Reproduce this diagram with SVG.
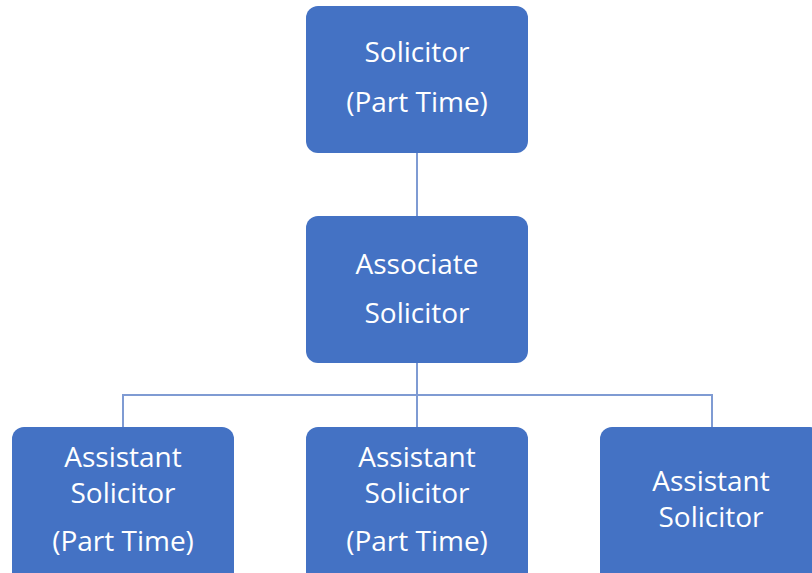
<svg xmlns="http://www.w3.org/2000/svg" width="812" height="573" viewBox="0 0 812 573">
<style>
.box{fill:#4472C4;}
.t{font-family:"Open Sans","Liberation Sans",sans-serif;font-size:28px;fill:#ffffff;text-anchor:middle;}
.c{stroke:#7F9BD3;stroke-width:2;fill:none;}
</style>
<rect width="812" height="573" fill="#ffffff"/>
<g id="connectors">
<line class="c" x1="417" y1="153" x2="417" y2="216"/>
<line class="c" x1="417" y1="363" x2="417" y2="427"/>
<polyline class="c" points="123,427 123,395 712,395 712,427"/>
</g>
<g id="n1">
<rect class="box" x="306" y="6" width="222" height="147" rx="12"/>
<text class="t" x="417" y="62">Solicitor</text>
<text class="t" x="417" y="112">(Part Time)</text>
</g>
<g id="n2">
<rect class="box" x="306" y="216" width="222" height="147" rx="12"/>
<text class="t" x="417" y="274">Associate</text>
<text class="t" x="417" y="323">Solicitor</text>
</g>
<g id="n3">
<rect class="box" x="12" y="427" width="222" height="160" rx="12"/>
<text class="t" x="123" y="467">Assistant</text>
<text class="t" x="123" y="503">Solicitor</text>
<text class="t" x="123" y="551">(Part Time)</text>
</g>
<g id="n4">
<rect class="box" x="306" y="427" width="222" height="160" rx="12"/>
<text class="t" x="417" y="467">Assistant</text>
<text class="t" x="417" y="503">Solicitor</text>
<text class="t" x="417" y="551">(Part Time)</text>
</g>
<g id="n5">
<rect class="box" x="600" y="427" width="222" height="160" rx="12"/>
<text class="t" x="711" y="491">Assistant</text>
<text class="t" x="711" y="527">Solicitor</text>
</g>
</svg>
